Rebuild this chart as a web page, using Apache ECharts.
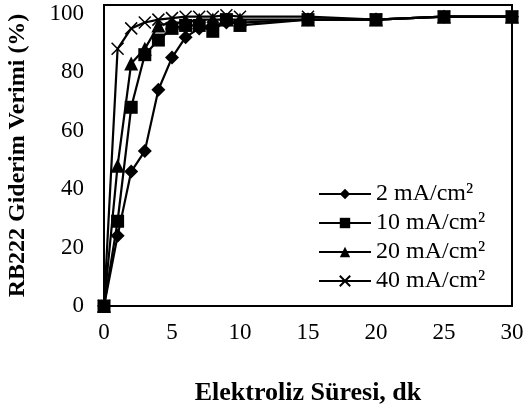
<!DOCTYPE html>
<html>
<head>
<meta charset="utf-8">
<script src="https://cdn.jsdelivr.net/npm/echarts@6/dist/echarts.min.js"></script>
<style>
  html, body { margin: 0; padding: 0; background: #fff; }
  #chart { width: 526px; height: 407px; }
</style>
</head>
<body>
<div id="chart"></div>
<script>
// Elektroliz süresi (dk)
const times = [0, 1, 2, 3, 4, 5, 6, 7, 8, 9, 10, 15, 20, 25, 30];

// Giderim verimi (%) per current density
const ma2 = [0, 24, 46, 53, 74, 85, 92, 95, 96, 97, 97, 98, 98, 99, 99];
const ma10 = [0, 29, 68, 86, 91, 95, 96, 96, 94, 98, 96, 98, 98, 99, 99];
const ma20 = [0, 48, 83, 88, 96, 97, 97, 98, 98, 98, 98, 98, 98, 99, 99];
const ma40 = [0, 88, 95, 97, 98, 98.5, 99, 99, 99, 99.5, 99, 99, 98, 99, 99];

const seriesNames = ['2 mA/cm²', '10 mA/cm²', '20 mA/cm²', '40 mA/cm²'];
const xTicks = [0, 5, 10, 15, 20, 25, 30];
const yTicks = [0, 20, 40, 60, 80, 100];

const FONT = '"Liberation Serif", "Times New Roman", serif';
const CROSS = 'path://M0,0L10,10M10,0L0,10';

const pairs = (ys) => times.map((t, i) => [t, ys[i]]);

function makeSeries(name, ys, symbol, size, cross) {
  return {
    name,
    type: 'line',
    data: pairs(ys),
    symbol,
    symbolSize: size,
    showSymbol: true,
    lineStyle: { color: '#000', width: 2.2 },
    itemStyle: cross
      ? { color: 'rgba(0,0,0,0)', borderColor: '#000', borderWidth: 1.5 }
      : { color: '#000', borderColor: '#000', borderWidth: 0 },
    emphasis: { disabled: true },
    z: 2,
  };
}

const chart = echarts.init(document.getElementById('chart'), null, { renderer: 'canvas' });

chart.setOption({
  animation: false,
  backgroundColor: '#fff',
  textStyle: { fontFamily: FONT, color: '#000' },
  grid: {
    left: 104, right: 14, top: 5, bottom: 101,
    outerBoundsMode: 'none',
    show: true, borderColor: '#000', borderWidth: 2,
  },
  legend: {
    orient: 'vertical',
    left: 313,
    top: 177,
    itemWidth: 52,
    itemHeight: 13,
    itemGap: 5,
    data: seriesNames,
    textStyle: { fontFamily: FONT, fontSize: 24, color: '#000' },
  },
  xAxis: {
    type: 'value',
    min: 0, max: 30, interval: 5,
    name: 'Elektroliz Süresi, dk',
    nameLocation: 'middle',
    nameGap: 74,
    nameTextStyle: { fontFamily: FONT, fontSize: 26, fontWeight: 'bold', color: '#000' },
    axisLine: { show: true, lineStyle: { color: '#000', width: 2 } },
    axisTick: { show: false },
    splitLine: { show: false },
    axisLabel: {
      fontFamily: FONT, fontSize: 23, color: '#000', margin: 15,
      formatter: (v) => (xTicks.includes(v) ? String(v) : ''),
    },
  },
  yAxis: {
    type: 'value',
    min: 0, max: 103, interval: 20,
    name: 'RB222 Giderim Verimi (%)',
    nameLocation: 'middle',
    nameGap: 74,
    nameRotate: 90,
    nameTextStyle: { fontFamily: FONT, fontSize: 24, fontWeight: 'bold', color: '#000' },
    axisLine: { show: true, lineStyle: { color: '#000', width: 2 } },
    axisTick: { show: false },
    splitLine: { show: false },
    axisLabel: {
      fontFamily: FONT, fontSize: 23, color: '#000', margin: 20,
      showMaxLabel: false,
      formatter: (v) => (yTicks.includes(v) ? String(v) : ''),
    },
  },
  series: [
    makeSeries(seriesNames[0], ma2, 'diamond', 14, false),
    makeSeries(seriesNames[1], ma10, 'rect', 13, false),
    makeSeries(seriesNames[2], ma20, 'triangle', 14, false),
    makeSeries(seriesNames[3], ma40, CROSS, 12, true),
  ],
});
</script>
</body>
</html>
